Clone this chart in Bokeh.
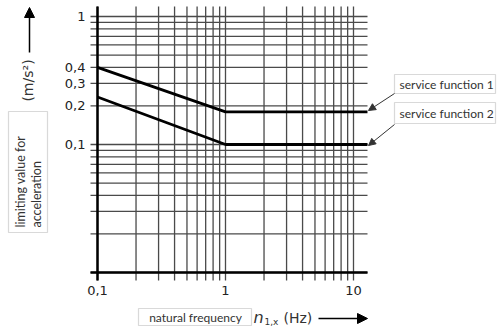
from math import pi
from bokeh.plotting import figure
from bokeh.core.properties import value
from bokeh.models import Range1d, Label, BoxAnnotation, Arrow, NormalHead
from bokeh.embed import file_html
from bokeh.resources import INLINE

# ---- data ----
freq = [0.1, 1.0, 12.86]          # natural frequency n_1,x (Hz)
sf1 = [0.4, 0.18, 0.18]            # service function 1 (m/s^2)
sf2 = [0.235, 0.1, 0.1]            # service function 2 (m/s^2)
x_ticks = [0.1, 1, 10]
x_tick_labels = ["0,1", "1", "10"]
y_ticks = [0.1, 0.2, 0.3, 0.4, 1]
y_tick_labels = ["0,1", "0,2", "0,3", "0,4", "1"]
x_grid = [m * 10.0 ** e for e in (-1, 0) for m in range(1, 10)] + [10]
y_grid = [m * 10.0 ** e for e in (-2, -1) for m in range(1, 10)] + [1]
series_names = ["service function 1", "service function  2"]

W, H = 501, 331
DEC = 128.0  # pixels per decade
# canvas pixel -> data helpers (only for ranges / grid extents)
def dx(cx):
    return 10 ** (-1 + (cx - 97) / DEC)
def dy(cy):
    return 10 ** (-(cy - 16) / DEC)
# canvas pixel -> screen units of annotations (frame == canvas)
def sx(cx):
    return cx
def sy(cy):
    return H - cy

p = figure(width=W, height=H, x_axis_type="log", y_axis_type="log",
           x_range=Range1d(dx(0), dx(W)), y_range=Range1d(dy(H), dy(0)),
           output_backend="svg", toolbar_location=None,
           x_axis_location=None, y_axis_location=None, min_border=0)
p.outline_line_color = None
p.xgrid.visible = False
p.ygrid.visible = False
p.background_fill_color = "white"
p.border_fill_color = "white"

gx0, gx1 = dx(90), dx(367)
gy0, gy1 = dy(280), dy(6)

grid_col = "#4a4a4a"
p.segment(x0=x_grid, y0=gy0, x1=x_grid, y1=gy1, line_color=grid_col, line_width=1.3)
p.segment(x0=gx0, y0=y_grid, x1=gx1, y1=y_grid, line_color=grid_col, line_width=1.3)
# heavy axis lines
p.segment(x0=[x_ticks[0]], y0=gy0, x1=[x_ticks[0]], y1=gy1, line_color="black", line_width=2.5)
p.segment(x0=gx0, y0=[y_grid[0]], x1=gx1, y1=[y_grid[0]], line_color="black", line_width=2.5)

# tick labels
p.text(x=x_ticks, y=[gy0] * len(x_ticks), text=x_tick_labels, y_offset=5,
       text_align="center", text_baseline="top", text_font=value("DejaVu Sans"),
       text_font_size="13px", text_color="#222222")
p.text(x=[gx0] * len(y_ticks), y=y_ticks, text=y_tick_labels, x_offset=-5,
       text_align="right", text_baseline="middle", text_font=value("DejaVu Sans"),
       text_font_size="13px", text_color="#222222")

# series
p.line(freq, sf1, line_color="black", line_width=2.8)
p.line(freq, sf2, line_color="black", line_width=2.8)

txt = "#333333"
box_col = "#808080"

def box(l, t, r, b):
    p.add_layout(BoxAnnotation(left=sx(l), right=sx(r), top=sy(t), bottom=sy(b),
                               left_units="screen", right_units="screen", top_units="screen",
                               bottom_units="screen", fill_color=None, fill_alpha=0,
                               line_color=box_col, line_width=1.2))

def label(cx, cy, text, font="Lato", size="12px", align="left", angle=0.0, style="normal"):
    p.add_layout(Label(x=sx(cx), y=sy(cy), x_units="screen", y_units="screen", text=text,
                       angle=angle, text_align=align, text_baseline="middle",
                       text_font=font, text_font_size=size, text_font_style=style,
                       text_color=txt))

def arrow(x0, y0, x1, y1, size, width, color):
    p.add_layout(Arrow(end=NormalHead(size=size, fill_color=color, line_color=color),
                       x_start=sx(x0), y_start=sy(y0), x_end=sx(x1), y_end=sy(y1),
                       start_units="screen", end_units="screen", line_width=width,
                       line_color=color))

# y-axis label
arrow(29, 52, 29, 7, 10, 1.5, "black")
label(27, 80, "(m/s²)", font="DejaVu Sans", size="14px", align="center", angle=pi / 2)
box(8, 111, 47, 232)
label(20, 227, "limiting value for", size="12.5px", angle=pi / 2)
label(36, 227, "acceleration", size="12.5px", angle=pi / 2)

# x-axis label
box(138, 308, 251, 325)
label(195, 316.5, "natural frequency", size="12px", align="center")
label(253, 317, "n", font="DejaVu Sans", size="16px", style="italic")
label(264, 321, "1,x", font="DejaVu Sans", size="9px")
label(283, 317, "(Hz)", font="DejaVu Sans", size="14px")
arrow(318, 318, 367, 318, 10, 1.5, "black")

# series callouts
callouts = [(74, 93, 93, 110), (102, 123, 124, 145)]
for name, (top, bottom, ys, ye) in zip(series_names, callouts):
    box(394, top, 495, bottom)
    label(399, (top + bottom) / 2, name, size="12px")
    arrow(394, ys, 368, ye, 7, 1, "#333333")

open("out.html", "w").write(file_html(p, INLINE))
